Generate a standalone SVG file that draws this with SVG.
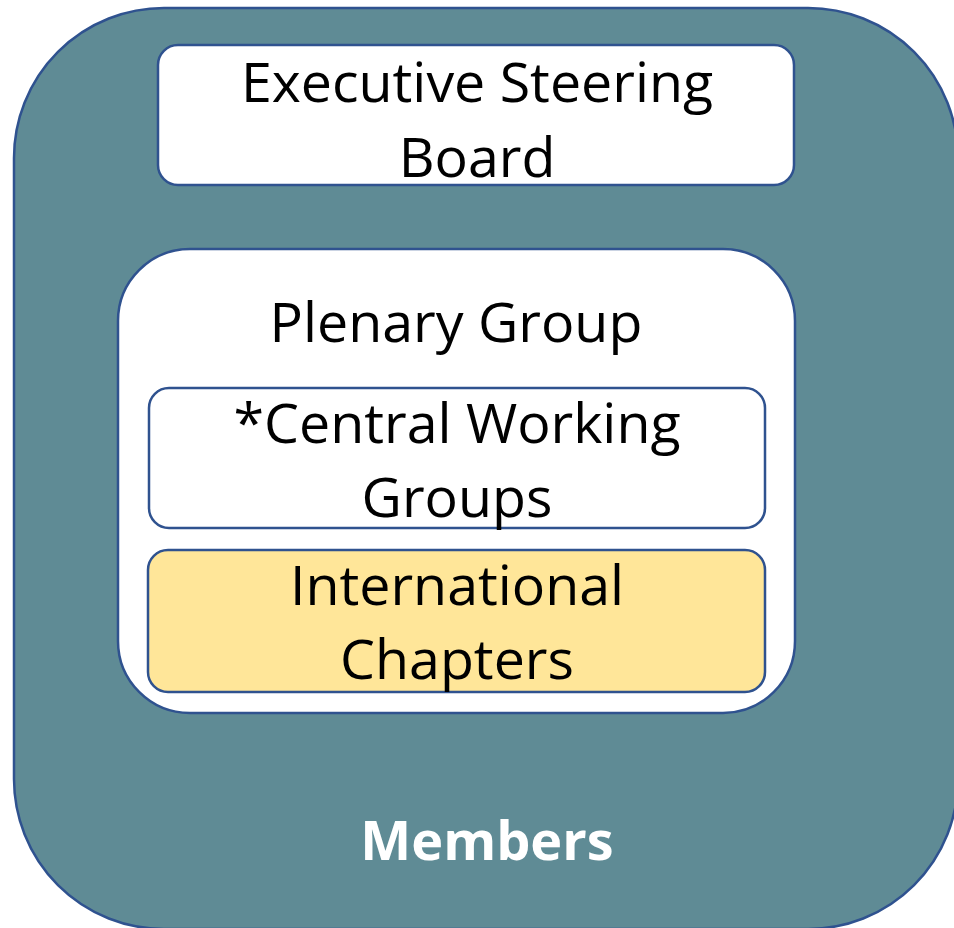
<svg xmlns="http://www.w3.org/2000/svg" width="954" height="928" viewBox="0 0 954 928">
<style>
.box{stroke:#2F528F;stroke-width:2.5}
.t{font-family:"Open Sans","Liberation Sans",sans-serif;font-size:55.5px;fill:#000;text-anchor:middle}
.m{font-family:"Open Sans","Liberation Sans",sans-serif;font-size:54px;font-weight:bold;fill:#fff;text-anchor:middle}
</style>
<rect width="954" height="928" fill="#fff"/>
<g id="members">
<rect class="box" x="14" y="8" width="944" height="921" rx="150" ry="150" fill="#5F8B95"/>
<text class="m" x="487" y="860">Members</text>
</g>
<g id="executive">
<rect class="box" x="158" y="45" width="636" height="140" rx="20" ry="20" fill="#fff"/>
<text class="t" x="477" y="102">Executive Steering</text>
<text class="t" x="477" y="177">Board</text>
</g>
<g id="plenary">
<rect class="box" x="118" y="249" width="677" height="464" rx="72" ry="72" fill="#fff"/>
<text class="t" x="456" y="342">Plenary Group</text>
</g>
<g id="central">
<rect class="box" x="149" y="388" width="616" height="140" rx="20" ry="20" fill="#fff"/>
<text class="t" x="457" y="443">*Central Working</text>
<text class="t" x="457" y="517">Groups</text>
</g>
<g id="international">
<rect class="box" x="148" y="550" width="617" height="142" rx="20" ry="20" fill="#FFE699"/>
<text class="t" x="457" y="605">International</text>
<text class="t" x="457" y="679">Chapters</text>
</g>
<g id="connectors"/>
</svg>
